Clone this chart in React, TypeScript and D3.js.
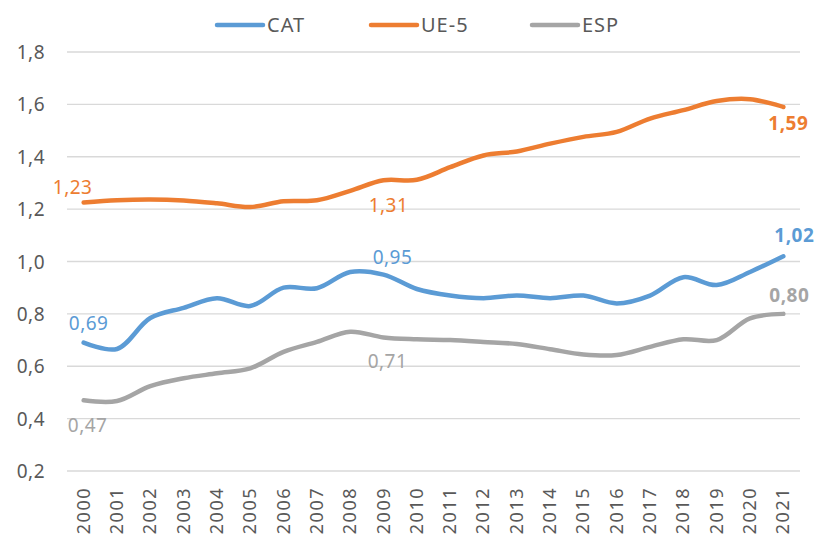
import React, { useRef, useEffect } from "react";
import * as d3 from "d3";

const years = d3.range(2000, 2022).map(String);
const cat = [0.69, 0.666, 0.784, 0.823, 0.86, 0.83, 0.9, 0.898, 0.96, 0.95, 0.895, 0.87, 0.86, 0.87, 0.86, 0.87, 0.84, 0.87, 0.94, 0.91, 0.96, 1.02];
const ue5 = [1.225, 1.234, 1.237, 1.233, 1.222, 1.208, 1.23, 1.234, 1.27, 1.31, 1.312, 1.36, 1.405, 1.42, 1.45, 1.476, 1.495, 1.546, 1.578, 1.613, 1.62, 1.59];
const esp = [0.47, 0.467, 0.524, 0.554, 0.573, 0.592, 0.655, 0.693, 0.732, 0.71, 0.703, 0.70, 0.693, 0.685, 0.665, 0.645, 0.643, 0.674, 0.703, 0.70, 0.783, 0.80];
const yTicks = [0.2, 0.4, 0.6, 0.8, 1.0, 1.2, 1.4, 1.6, 1.8];

const seriesNames = ["CAT", "UE-5", "ESP"];
const colors = ["#5B9BD5", "#ED7D31", "#A5A5A5"];

// which points get a label, and where (dx, dy from point, bold)
const labelSpecs = [
  { s: 0, i: 0, dx: 5, dy: -13, bold: false },
  { s: 0, i: 9, dx: 9, dy: -11, bold: false },
  { s: 0, i: 21, dx: 11, dy: -14, bold: true },
  { s: 1, i: 0, dx: -11, dy: -9, bold: false },
  { s: 1, i: 9, dx: 5, dy: 32, bold: false },
  { s: 1, i: 21, dx: 5, dy: 23, bold: true },
  { s: 2, i: 0, dx: 4, dy: 32, bold: false },
  { s: 2, i: 9, dx: 4, dy: 31, bold: false },
  { s: 2, i: 21, dx: 6, dy: -12, bold: true },
];

const App = () => {
  const ref = useRef(null);
  const width = 817;
  const height = 539;
  const left = 67, right = 800, top = 52, bottom = 471;
  const font = "'Noto Sans', sans-serif";

  useEffect(() => {
    const svg = d3.select(ref.current);
    svg.selectAll("*").remove();

    const x = d3.scalePoint().domain(years).range([left, right]).padding(0.5);
    const y = d3.scaleLinear().domain([0.2, 1.8]).range([bottom, top]);

    // grid
    svg.append("g")
      .selectAll("line")
      .data(yTicks)
      .join("line")
      .attr("x1", left)
      .attr("x2", right)
      .attr("y1", d => y(d))
      .attr("y2", d => y(d))
      .attr("stroke", "#d9d9d9")
      .attr("stroke-width", 1.3);

    // y labels
    svg.append("g")
      .selectAll("text")
      .data(yTicks)
      .join("text")
      .attr("x", 45)
      .attr("y", d => y(d) + 7)
      .attr("text-anchor", "end")
      .attr("font-family", font)
      .attr("font-size", 19)
      .attr("letter-spacing", 0.5)
      .attr("fill", "#595959")
      .text(d => d.toFixed(1).replace(".", ","));

    // x labels
    svg.append("g")
      .selectAll("text")
      .data(years)
      .join("text")
      .attr("transform", d => `translate(${x(d) + 6}, 487) rotate(-90)`)
      .attr("text-anchor", "end")
      .attr("font-family", font)
      .attr("font-size", 18)
      .attr("letter-spacing", 1.5)
      .attr("fill", "#595959")
      .text(d => d);

    const line = d3.line()
      .x((d, i) => x(years[i]))
      .y(d => y(d))
      .curve(d3.curveCatmullRom.alpha(0.5));

    const allSeries = [cat, ue5, esp];
    // draw order: ESP, UE-5, CAT
    [2, 1, 0].forEach(s => {
      svg.append("path")
        .attr("d", line(allSeries[s]))
        .attr("fill", "none")
        .attr("stroke", colors[s])
        .attr("stroke-width", 4.5)
        .attr("stroke-linecap", "round")
        .attr("stroke-linejoin", "round");
    });

    // data labels
    svg.append("g")
      .selectAll("text")
      .data(labelSpecs)
      .join("text")
      .attr("x", d => x(years[d.i]) + d.dx)
      .attr("y", d => y(allSeries[d.s][d.i]) + d.dy)
      .attr("text-anchor", "middle")
      .attr("font-family", font)
      .attr("font-size", 19)
      .attr("letter-spacing", 0.5)
      .attr("font-weight", d => d.bold ? 700 : 400)
      .attr("fill", d => colors[d.s])
      .text(d => {
        const v = allSeries[d.s][d.i];
        const shown = d.s === 1 && d.i === 0 ? 1.23 : v;
        return shown.toFixed(2).replace(".", ",");
      });

    // legend
    const legendX = [217, 371, 532];
    const lg = svg.append("g");
    seriesNames.forEach((name, k) => {
      lg.append("line")
        .attr("x1", legendX[k])
        .attr("x2", legendX[k] + 46)
        .attr("y1", 25)
        .attr("y2", 25)
        .attr("stroke", colors[k])
        .attr("stroke-width", 4.5)
        .attr("stroke-linecap", "round");
      lg.append("text")
        .attr("x", legendX[k] + 50)
        .attr("y", 32)
        .attr("font-family", font)
        .attr("font-size", 20)
        .attr("letter-spacing", 1)
        .attr("fill", "#595959")
        .text(name);
    });
  });

  return (
    <svg ref={ref} width={width} height={height}
      style={{ position: "absolute", left: 0, top: 0, background: "#fff" }} />
  );
};

export default App;
